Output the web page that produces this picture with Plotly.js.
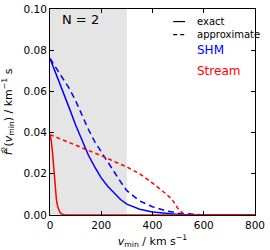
<!DOCTYPE html>
<html><head><meta charset="utf-8">
<script src="https://cdn.plot.ly/plotly-3.0.1.min.js"></script>
<style>body{margin:0;padding:0;background:#fff}</style>
</head><body>
<div id="chart" style="width:270px;height:250px"></div>
<script>
// SHM exact (solid blue)
const shmExactV = [0,25,50,75,100,125,150,175,200,225,250,275,300,350,400,450,500,550,600,800];
const shmExactF = [0.076,0.068,0.061,0.052,0.0437,0.036,0.029,0.0232,0.018,0.014,0.0105,0.0075,0.0053,0.0028,0.0015,0.0008,0.0003,0.0001,0,0];
// SHM approximate (dashed blue)
const shmApproxV = [0,25,50,75,100,125,150,175,200,225,250,275,300,325,350,400,450,500,550,600,800];
const shmApproxF = [0.076,0.0712,0.0665,0.0615,0.0555,0.0485,0.0415,0.0355,0.0305,0.0258,0.021,0.0162,0.0118,0.0093,0.0068,0.004,0.0021,0.0009,0.0003,0,0];
// Stream exact (solid red)
const streamExactV = [0,5,10,15,20,25,30,35,40,50,60,800];
const streamExactF = [0.039,0.036,0.030,0.023,0.0135,0.0075,0.004,0.002,0.001,0.0002,0,0];
// Stream approximate (dashed red)
const streamApproxV = [0,50,100,150,200,250,300,350,400,450,475,500,525,600,800];
const streamApproxF = [0.039,0.0365,0.034,0.0315,0.0288,0.026,0.0233,0.020,0.0155,0.0105,0.0078,0.003,0,0,0];
const shadeRange = [0, 300];
const xTicks = [0,200,400,600,800];
const yTicks = [0,0.02,0.04,0.06,0.08,0.10];
const yTickText = ['0.00','0.02','0.04','0.06','0.08','0.10'];

const font = 'DejaVu Sans, sans-serif';
const traces = [
  {x: shmExactV, y: shmExactF, mode:'lines', line:{color:'#0000ff', width:1.5}, showlegend:false},
  {x: shmApproxV, y: shmApproxF, mode:'lines', line:{color:'#0000ff', width:1.5, dash:'6px,4px'}, showlegend:false},
  {x: streamApproxV, y: streamApproxF, mode:'lines', line:{color:'#ff0000', width:1.5, dash:'4px,3px'}, showlegend:false},
  {x: streamExactV, y: streamExactF, mode:'lines', line:{color:'#ff0000', width:1.5}, showlegend:false}
];
const axisCommon = {
  showline:true, linecolor:'#000', linewidth:1, mirror:'ticks', ticks:'inside', ticklen:4, tickcolor:'#000',
  showgrid:false, zeroline:false, tickfont:{family:font, size:10.5, color:'#000'}
};
const legendRows = [0.939, 0.876];
const layout = {
  width:270, height:250,
  margin:{l:49.5, r:15, t:8.5, b:35},
  paper_bgcolor:'#fff', plot_bgcolor:'#fff',
  showlegend:false,
  xaxis: Object.assign({}, axisCommon, {range:[0,800], tickvals:xTicks, ticktext:xTicks.map(String),
    title:{text:'<i>v</i><sub>min</sub> / km s<sup>−1</sup>', font:{family:font, size:11, color:'#000'}, standoff:7}}),
  yaxis: Object.assign({}, axisCommon, {range:[0,0.1], tickvals:yTicks, ticktext:yTickText,
    title:{text:'<i>f̂</i><sup>2</sup>(<i>v</i><sub>min</sub>) / km<sup>−1</sup> s', font:{family:font, size:11, color:'#000'}, standoff:10}}),
  shapes:[
    {type:'rect', xref:'x', yref:'paper', x0:shadeRange[0], x1:shadeRange[1], y0:0, y1:1, fillcolor:'#e5e5e5', line:{width:0}, layer:'below'},
    {type:'line', xref:'paper', yref:'paper', x0:0.601, x1:0.659, y0:legendRows[0], y1:legendRows[0], line:{color:'#000', width:1.2}},
    {type:'line', xref:'paper', yref:'paper', x0:0.601, x1:0.659, y0:legendRows[1], y1:legendRows[1], line:{color:'#000', width:1.2, dash:'4px,3px'}}
  ],
  annotations:[
    {text:'N = 2', xref:'paper', yref:'paper', x:0.05, y:0.95, xanchor:'left', yanchor:'middle', showarrow:false, font:{family:font, size:13, color:'#000'}},
    {text:'exact', xref:'paper', yref:'paper', x:0.708, y:legendRows[0], xanchor:'left', yanchor:'middle', showarrow:false, font:{family:font, size:10, color:'#000'}},
    {text:'approximate', xref:'paper', yref:'paper', x:0.708, y:legendRows[1], xanchor:'left', yanchor:'middle', showarrow:false, font:{family:font, size:10, color:'#000'}},
    {text:'SHM', xref:'paper', yref:'paper', x:0.708, y:0.80, xanchor:'left', yanchor:'middle', showarrow:false, font:{family:font, size:12, color:'#0000ff'}},
    {text:'Stream', xref:'paper', yref:'paper', x:0.708, y:0.697, xanchor:'left', yanchor:'middle', showarrow:false, font:{family:font, size:12, color:'#ff0000'}}
  ]
};
Plotly.newPlot('chart', traces, layout, {displayModeBar:false, staticPlot:true});
</script>
</body></html>
